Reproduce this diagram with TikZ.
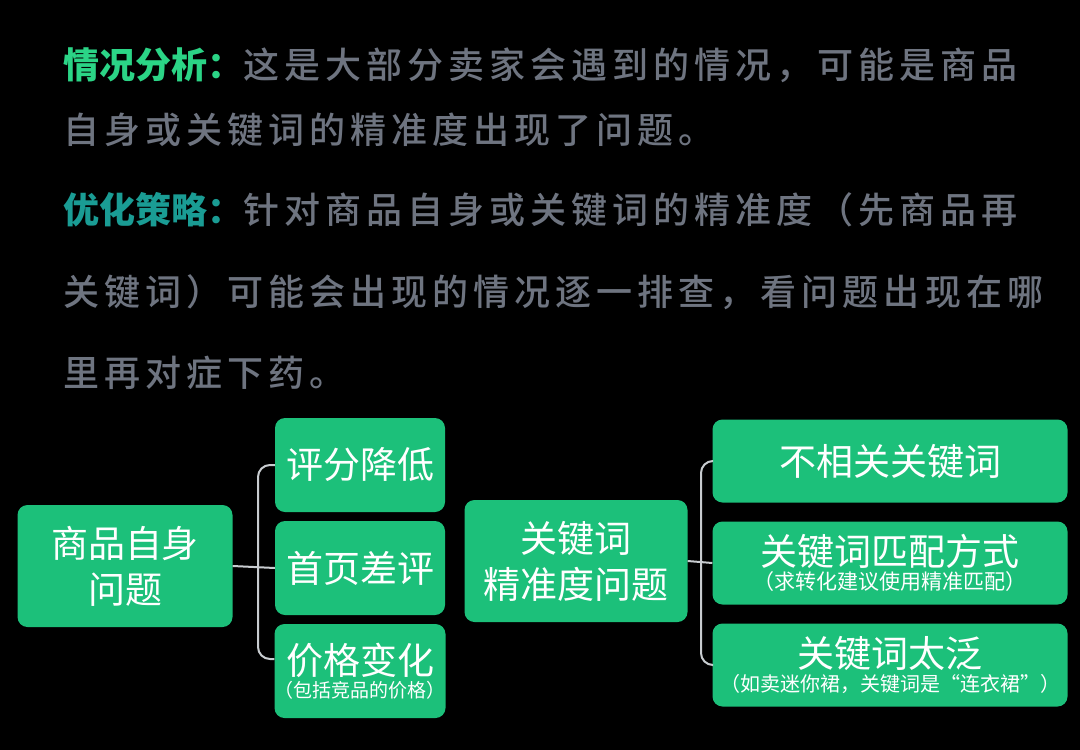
\documentclass[tikz,border=0pt]{standalone}
\usepackage{fontspec}
\setmainfont{Noto Sans CJK SC}
\newfontfamily\cjkm{Noto Sans CJK SC Medium}
\newfontfamily\cjkb{Noto Sans CJK SC Black}
\definecolor{bxg}{HTML}{1CC07A}
\definecolor{hg}{HTML}{2BD486}
\definecolor{ht}{HTML}{1A9C94}
\definecolor{tg}{HTML}{6E7480}
\definecolor{ln}{HTML}{C8CCD0}
\tikzset{
  bx/.style={fill=bxg,rounded corners=10pt,text=white,align=center,inner sep=0pt},
  tl/.style={anchor=west,text=tg,inner sep=0pt,font=\cjkm\fontsize{36}{40}\selectfont},
  cn/.style={draw=ln,line width=2pt,rounded corners=12pt},
  big/.style={font=\fontsize{37}{46}\selectfont},
}
\newcommand\mn[1]{{\fontsize{37}{40}\selectfont #1}}
\newcommand\sm[2]{{\fontsize{#1}{#1}\selectfont #2}}
\begin{document}
\begin{tikzpicture}[x=1pt,y=-1pt]
\fill[black] (0,0) rectangle (1080,750);
\useasboundingbox (0,0) rectangle (1080,750);
\node[tl] (t1) at (63,65) {\addfontfeatures{LetterSpace=14}{\cjkb\color{hg}情况分析：}这是大部分卖家会遇到的情况，可能是商品};
\node[tl] (t2) at (63,130) {\addfontfeatures{LetterSpace=14}自身或关键词的精准度出现了问题。};
\node[tl] (t3) at (63,210) {\addfontfeatures{LetterSpace=14}{\cjkb\color{ht}优化策略：}针对商品自身或关键词的精准度（先商品再};
\node[tl] (t4) at (63,292) {\addfontfeatures{LetterSpace=14}关键词）可能会出现的情况逐一排查，看问题出现在哪};
\node[tl] (t5) at (63,373) {\addfontfeatures{LetterSpace=14}里再对症下药。};

\node[bx,big,minimum width=215,minimum height=122] (a) at (125,566) {商品自身\\问题};
\node[bx,big,minimum width=170,minimum height=94] (a1) at (360,465) {评分降低};
\node[bx,big,minimum width=170,minimum height=94] (a2) at (360,568) {首页差评};
\node[bx,minimum width=170,minimum height=94] (a3) at (360,671) {\mn{价格变化}\\[2pt]\sm{19}{（包括竞品的价格）}};

\node[bx,big,minimum width=223,minimum height=122] (b) at (576,561) {关键词\\精准度问题};
\node[bx,big,minimum width=355,minimum height=83] (b1) at (890,461) {不相关关键词};
\node[bx,minimum width=355,minimum height=83] (b2) at (890,563) {\mn{关键词匹配方式}\\[2pt]\sm{21}{（求转化建议使用精准匹配）}};
\node[bx,minimum width=355,minimum height=83] (b3) at (890,665) {\mn{关键词太泛}\\[2pt]\sm{20}{（如卖迷你裙，关键词是“连衣裙”）}};

\coordinate (ja) at (258,0);
\draw[cn] (a1.west) -| (ja |- a2.west) |- ([yshift=12pt]a3.west);
\draw[ln,line width=2pt] (a.east) -- (a2.west);
\coordinate (jb) at (701,0);
\draw[cn] (b1.west) -| (jb |- b2.west) |- (b3.west);
\draw[ln,line width=2pt] (b.east) -- (b2.west);
\end{tikzpicture}
\end{document}
